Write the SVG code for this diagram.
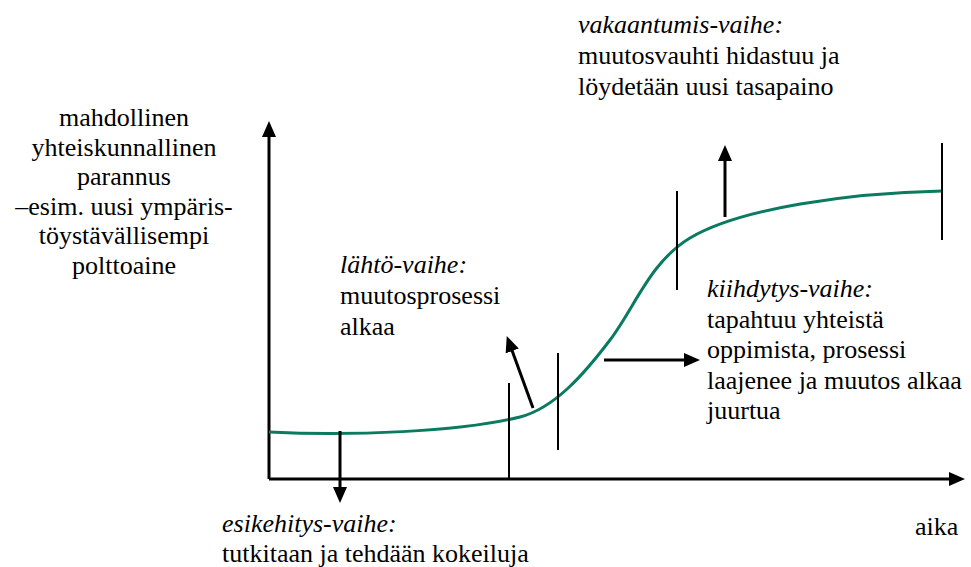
<svg xmlns="http://www.w3.org/2000/svg" width="971" height="567" viewBox="0 0 971 567">
<defs>
<marker id="ah" markerUnits="userSpaceOnUse" viewBox="0 0 16 14" refX="8" refY="7" markerWidth="16" markerHeight="14" orient="auto">
<path d="M0,0 L16,7 L0,14 Z" fill="#000"/>
</marker>
</defs>
<rect width="971" height="567" fill="#fff"/>
<g id="axes" stroke="#000" stroke-width="3" fill="none">
<path d="M269,479 L269,129" marker-end="url(#ah)"/>
<path d="M269,479 L957,479" marker-end="url(#ah)"/>
</g>
<g id="curve">
<path stroke="#0a7a60" stroke-width="3" fill="none" d="M269,432 C350,436 460,432 520,417 C555,408 585,373 610,340 C635,307 650,262 690,238 C740,208 850,193 942,191"/>
</g>
<g id="ticks" stroke="#000" stroke-width="2">
<line x1="509" y1="383" x2="509" y2="479"/>
<line x1="558" y1="353" x2="558" y2="450"/>
<line x1="677" y1="191" x2="677" y2="290"/>
<line x1="942" y1="143" x2="942" y2="240"/>
</g>
<g id="connectors" stroke="#000" stroke-width="3" fill="none">
<line x1="340" y1="431" x2="340" y2="495" marker-end="url(#ah)"/>
<line x1="533" y1="408" x2="509.5" y2="343.5" marker-end="url(#ah)"/>
<line x1="604" y1="360" x2="692" y2="360" marker-end="url(#ah)"/>
<line x1="725" y1="217" x2="725" y2="153" marker-end="url(#ah)"/>
</g>
<g id="y-label">
<text font-family="Liberation Serif" font-size="26" text-anchor="middle" x="124" y="126">mahdollinen</text>
<text font-family="Liberation Serif" font-size="26" text-anchor="middle" x="124" y="156">yhteiskunnallinen</text>
<text font-family="Liberation Serif" font-size="26" text-anchor="middle" x="124" y="185">parannus</text>
<text font-family="Liberation Serif" font-size="26" text-anchor="middle" x="124" y="215">–esim. uusi ympäris-</text>
<text font-family="Liberation Serif" font-size="26" text-anchor="middle" x="124" y="244">töystävällisempi</text>
<text font-family="Liberation Serif" font-size="26" text-anchor="middle" x="124" y="274">polttoaine</text>
</g>
<g id="x-label">
<text font-family="Liberation Serif" font-size="26" x="915" y="535">aika</text>
</g>
<g id="esikehitys">
<text font-family="Liberation Serif" font-size="26" font-style="italic" x="222" y="532">esikehitys-vaihe:</text>
<text font-family="Liberation Serif" font-size="26" x="222" y="562">tutkitaan ja tehdään kokeiluja</text>
</g>
<g id="lahto">
<text font-family="Liberation Serif" font-size="26" font-style="italic" x="340" y="273">lähtö-vaihe:</text>
<text font-family="Liberation Serif" font-size="26" x="340" y="304">muutosprosessi</text>
<text font-family="Liberation Serif" font-size="26" x="340" y="335">alkaa</text>
</g>
<g id="kiihdytys">
<text font-family="Liberation Serif" font-size="26" font-style="italic" x="707" y="297">kiihdytys-vaihe:</text>
<text font-family="Liberation Serif" font-size="26" x="707" y="328">tapahtuu yhteistä</text>
<text font-family="Liberation Serif" font-size="26" x="707" y="358">oppimista, prosessi</text>
<text font-family="Liberation Serif" font-size="26" x="707" y="389">laajenee ja muutos alkaa</text>
<text font-family="Liberation Serif" font-size="26" x="707" y="419">juurtua</text>
</g>
<g id="vakaantumis">
<text font-family="Liberation Serif" font-size="26" font-style="italic" x="578" y="33">vakaantumis-vaihe:</text>
<text font-family="Liberation Serif" font-size="26" x="578" y="64">muutosvauhti hidastuu ja</text>
<text font-family="Liberation Serif" font-size="26" x="578" y="95">löydetään uusi tasapaino</text>
</g>
</svg>
